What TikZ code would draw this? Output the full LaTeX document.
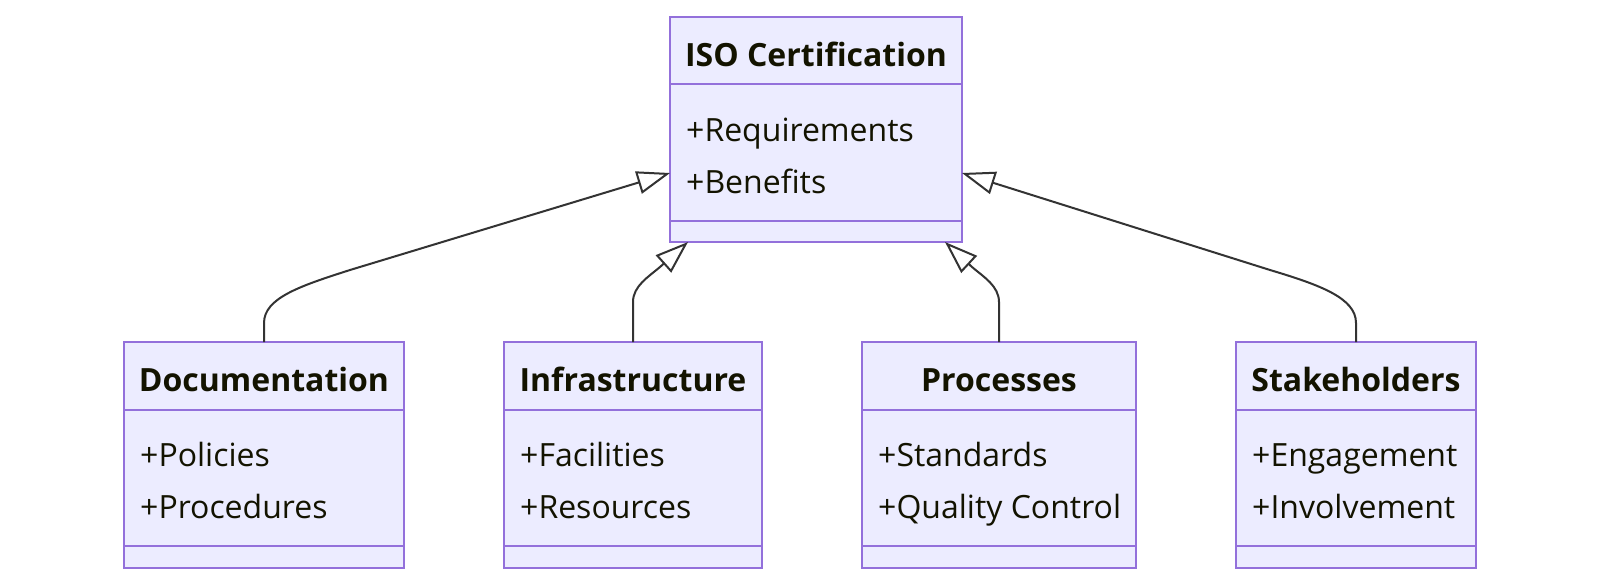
\documentclass[tikz,border=0pt]{standalone}
\usepackage{fontspec}
\setmainfont{Open Sans}
\usetikzlibrary{arrows.meta,calc}
\definecolor{boxfill}{HTML}{ECECFF}
\definecolor{boxline}{HTML}{9370DB}
\definecolor{edgecol}{HTML}{333333}
\definecolor{txt}{HTML}{131300}
\tikzset{
  classbox/.style={draw=boxline, fill=boxfill, line width=2pt, inner sep=0pt, outer sep=0pt},
  divider/.style={draw=boxline, line width=2pt},
  ttl/.style={font=\fontsize{32}{34}\selectfont\bfseries, text=txt, inner sep=0pt, anchor=base},
  attr/.style={font=\fontsize{32}{34}\selectfont, text=txt, inner sep=0pt, anchor=base west},
  inh/.style={draw=edgecol, line width=2pt, -{Triangle[open, length=33pt, width=23pt]}}
}
\newcommand\umlclass[7]{%
  \node[classbox, minimum width={(#3-#2)*1pt}, minimum height=225.5pt] (#1) at ({(#2+#3)/2},{#4+112.75}) {};
  \draw[divider] ([yshift=-67.5pt]#1.north west) -- ([yshift=-67.5pt]#1.north east);
  \draw[divider] ([yshift=21.5pt]#1.south west) -- ([yshift=21.5pt]#1.south east);
  \node[ttl] (#1-t) at ([yshift=-49.5pt]#1.north) {#5};
  \node[attr] (#1-a) at ([xshift=16pt,yshift=-124.5pt]#1.north west) {#6};
  \node[attr] (#1-b) at ([xshift=16pt,yshift=-176.5pt]#1.north west) {#7};
}
\begin{document}
\begin{tikzpicture}[x=1pt,y=-1pt]
  \fill[white] (0,0) rectangle (1600,584);
  \useasboundingbox (0,0) rectangle (1600,584);
  \umlclass{iso}{670}{962}{16.5}{ISO Certification}{+Requirements}{+Benefits}
  \umlclass{doc}{124}{404}{342}{Documentation}{+Policies}{+Procedures}
  \umlclass{inf}{504}{762}{342}{Infrastructure}{+Facilities}{+Resources}
  \umlclass{proc}{862}{1136}{342}{Processes}{+Standards}{+Quality Control}
  \umlclass{stake}{1236}{1476}{342}{Stakeholders}{+Engagement}{+Involvement}
  \draw[inh] (doc.north) -- ++(0,-19) .. controls ++(0,-25) and (300,286) .. (350,270) -- ([yshift=-43.75pt]iso.west);
  \draw[inh] (inf.north) -- ++(0,-40) .. controls ++(0,-16) and (648.6,276.75) .. (660,267) -- ([xshift=18pt]iso.south west);
  \draw[inh] (proc.north) -- ++(0,-40) .. controls ++(0,-16) and (983.4,276.75) .. (972,267) -- ([xshift=-17pt]iso.south east);
  \draw[inh] (stake.north) -- ++(0,-19) .. controls ++(0,-25) and (1320,285) .. (1270,270) -- ([yshift=-43.75pt]iso.east);
\end{tikzpicture}
\end{document}
